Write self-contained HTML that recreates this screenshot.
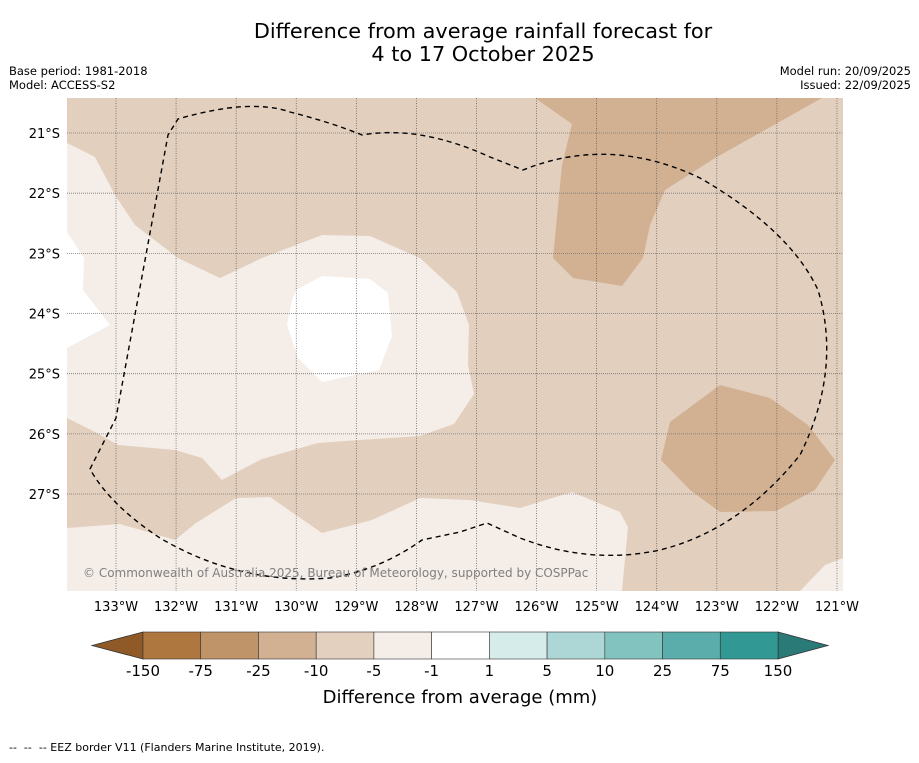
<!DOCTYPE html>
<html><head><meta charset="utf-8"><style>
body{margin:0;background:#fff;font-family:"Liberation Sans","DejaVu Sans",sans-serif;}
svg text{font-family:"DejaVu Sans","Liberation Sans",sans-serif;}
</style></head><body>
<svg width="919" height="758" viewBox="0 0 919 758" xmlns="http://www.w3.org/2000/svg">
<text x="483" y="38" text-anchor="middle" font-size="20.8">Difference from average rainfall forecast for</text>
<text x="483" y="61" text-anchor="middle" font-size="20.8">4 to 17 October 2025</text>
<text x="9" y="75" font-size="11.5">Base period: 1981-2018</text>
<text x="9" y="89" font-size="11.5">Model: ACCESS-S2</text>
<text x="911" y="75" font-size="11.5" text-anchor="end">Model run: 20/09/2025</text>
<text x="911" y="89" font-size="11.5" text-anchor="end">Issued: 22/09/2025</text>
<defs><clipPath id="mc"><rect x="67" y="98" width="776" height="493"/></clipPath></defs>
<g clip-path="url(#mc)">
<rect x="67" y="98" width="776" height="493" fill="#e2cfbe"/>
<polygon fill="#f4ede8" points="67,143 95,157 115,195 135,225 178,258 220,278 262,258 322,235 370,236 420,258 457,292 469,325 468,365 474,394 454,424 420,436 360,440 318,443 262,459 222,480 202,458 175,450 118,445 95,432 67,418"/>
<polygon fill="#ffffff" points="67,232 84,258 83,290 110,325 67,348"/>
<polygon fill="#ffffff" points="296,290 322,276 370,279 388,293 392,336 379,370 322,382 298,358 287,325 292,300"/>
<polygon fill="#f4ede8" points="67,528 120,524 175,540 196,523 236,498 270,497 322,533 372,520 420,498 470,500 520,508 572,492 620,512 628,527 622,591 67,591"/>
<polygon fill="#f4ede8" points="800,591 825,565 843,558 843,591"/>
<polygon fill="#d2b193" points="535,98 572,124 562,165 553,258 573,278 622,286 643,258 650,225 665,190 715,158 822,98"/>
<polygon fill="#d2b193" points="670,422 720,385 770,398 808,425 835,460 815,490 776,511 720,512 690,490 661,460"/>
<g id="grid"></g>
<path fill="none" stroke="#000" stroke-width="1.4" stroke-dasharray="5,4" d="M90,469 L116,418 L168,135 L178,119 Q250,98 290,112 Q330,122 362,135 Q420,125 490,157 L523,170 Q610,135 700,178 Q790,230 818,290 Q842,370 800,455 Q740,530 660,550 Q590,565 520,538 L487,523 L460,532 L422,540 Q380,570 330,578 Q240,585 160,538 Q110,505 90,469 Z"/>
<text x="83" y="577" font-size="12" fill="#808080">© Commonwealth of Australia 2025, Bureau of Meteorology, supported by COSPPac</text>
</g>
<g id="axes"></g>
<g id="cbar"></g>
<text x="460" y="703" text-anchor="middle" font-size="18">Difference from average (mm)</text>
<text x="9" y="751" font-size="11" xml:space="preserve" style="white-space:pre">--  --  -- EEZ border V11 (Flanders Marine Institute, 2019).</text>
</svg>
<script>
const lonTicks=[133,132,131,130,129,128,127,126,125,124,123,122,121];
const latTicks=[21,22,23,24,25,26,27];
const cbarLabels=["-150","-75","-25","-10","-5","-1","1","5","10","25","75","150"];
const cbarColors=["#ae773f","#c09469","#d2b193","#e3d0bf","#f4ede8","#ffffff","#d6ecea","#acd7d6","#82c2bf","#5aadab","#319894"];
const NS="http://www.w3.org/2000/svg";
function xLon(l){return 116+(133-l)*60.08;}
function yLat(l){return 133+(l-21)*60.17;}
function mk(t,a,p){const e=document.createElementNS(NS,t);for(const k in a)e.setAttribute(k,a[k]);p.appendChild(e);return e;}
const grid=document.getElementById('grid'),axes=document.getElementById('axes');
lonTicks.forEach(l=>{const x=xLon(l);
 const ln=mk('line',{x1:x,x2:x,y1:98,y2:591,stroke:'#555','stroke-width':0.7,'stroke-dasharray':'1,1.5'},grid);
 
 
 const t=mk('text',{x:x,y:611,'text-anchor':'middle','font-size':13},axes);t.textContent=l+'°W';
 
 });
latTicks.forEach(l=>{const y=yLat(l);
 const ln=mk('line',{x1:67,x2:843,y1:y,y2:y,stroke:'#777','stroke-width':0.8,'stroke-dasharray':'1,1'},grid);
 
 
 const t=mk('text',{x:60,y:y+5,'text-anchor':'end','font-size':13},axes);t.textContent=l+'°S';
 
 });
const cb=document.getElementById('cbar');const x0=143,x1=778,y0=632,y1=659,w=(x1-x0)/cbarColors.length;
const lt=mk('polygon',{points:`92,645.5 ${x0},${y0} ${x0},${y1}`,fill:'#8f5a28',stroke:'#333','stroke-width':0.8},cb);


const rt=mk('polygon',{points:`${x1},${y0} 828,645.5 ${x1},${y1}`,fill:'#2a7a77',stroke:'#333','stroke-width':0.8},cb);


cbarColors.forEach((c,i)=>{const r=mk('rect',{x:x0+i*w,y:y0,width:w,height:y1-y0,fill:c,stroke:'#333','stroke-width':0.6},cb);
 
 });
cbarLabels.forEach((s,i)=>{const t=mk('text',{x:x0+i*w,y:676,'text-anchor':'middle','font-size':15},cb);t.textContent=s;
 
 });
</script>
</body></html>
